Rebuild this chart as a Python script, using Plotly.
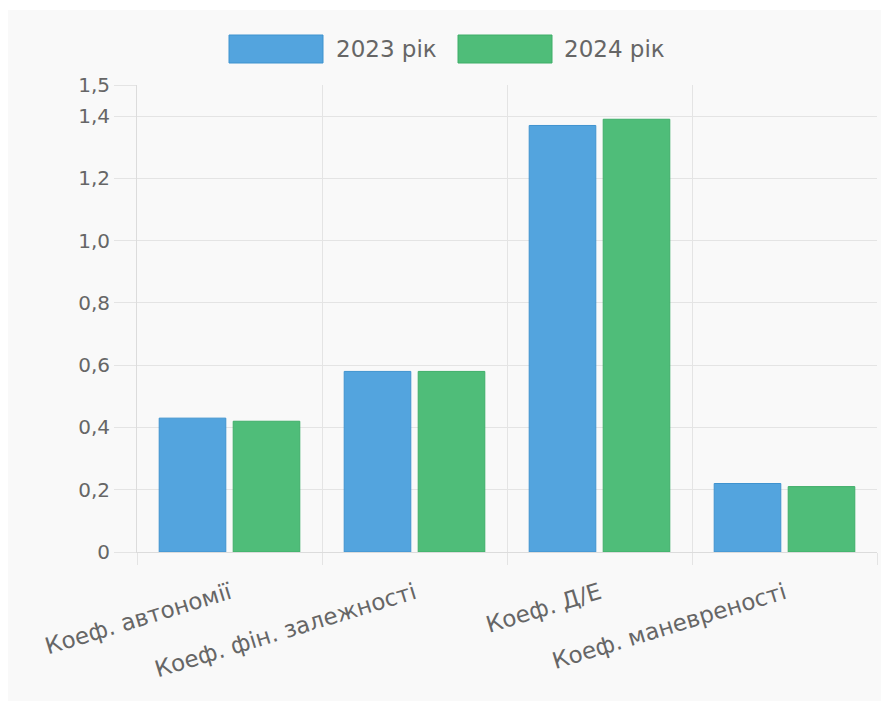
import plotly.graph_objects as go

# Financial stability ratios, two years side by side
categories = ["Коеф. автономії", "Коеф. фін. залежності", "Коеф. Д/Е", "Коеф. маневреності"]
series_names = ["2023 рік", "2024 рік"]
values_2023 = [0.43, 0.58, 1.37, 0.22]
values_2024 = [0.42, 0.58, 1.39, 0.21]
y_tick_values = [0, 0.2, 0.4, 0.6, 0.8, 1.0, 1.2, 1.4, 1.5]
y_tick_labels = ["0", "0,2", "0,4", "0,6", "0,8", "1,0", "1,2", "1,4", "1,5"]

FILL = ["#53a4de", "#4fbd79"]
EDGE = ["#3f93cf", "#3fae69"]
GRID = "#e4e4e4"
TEXT = "#666666"
FONT = "DejaVu Sans"

W, H = 889, 711
ML, MR, MT, MB = 137, 12, 85, 159
PW, PH = W - ML - MR, H - MT - MB


def px_x(x):
    return (x - ML) / PW


def px_y(y):
    return (H - MB - y) / PH


fig = go.Figure()
for name, vals, fill, edge in zip(series_names, [values_2023, values_2024], FILL, EDGE):
    fig.add_trace(go.Bar(
        x=categories, y=vals, name=name,
        marker=dict(color=fill, line=dict(color=edge, width=1)),
        showlegend=False,
    ))

shapes = [
    # light card behind the whole chart
    dict(type="rect", xref="paper", yref="paper", layer="below",
         x0=px_x(8), x1=px_x(881), y0=px_y(701), y1=px_y(10),
         fillcolor="#f9f9f9", line=dict(width=0)),
]
annotations = []

# legend boxes with labels across the top
legend_boxes = [(229, 323, 334), (458, 552, 562)]
for (bx0, bx1, tx), name, fill, edge in zip(legend_boxes, series_names, FILL, EDGE):
    shapes.append(dict(type="rect", xref="paper", yref="paper",
                       x0=px_x(bx0), x1=px_x(bx1), y0=px_y(63), y1=px_y(35),
                       fillcolor=fill, line=dict(color=edge, width=1)))
    annotations.append(dict(xref="paper", yref="paper", x=px_x(tx), y=px_y(49),
                            xanchor="left", yanchor="middle", showarrow=False,
                            text=name, font=dict(family=FONT, size=23, color=TEXT)))

fig.update_layout(
    width=W, height=H,
    margin=dict(l=ML, r=MR, t=MT, b=MB, pad=0),
    paper_bgcolor="white",
    plot_bgcolor="rgba(0,0,0,0)",
    barmode="group", bargap=0.2, bargroupgap=0.1,
    font=dict(family=FONT, size=20, color=TEXT),
    shapes=shapes, annotations=annotations,
    xaxis=dict(
        type="category", tickson="boundaries",
        showgrid=True, gridcolor=GRID, gridwidth=1,
        ticks="outside", ticklen=12, tickcolor=GRID,
        tickangle=-17, tickfont=dict(family=FONT, size=23, color=TEXT),
        ticklabelstandoff=18,
        showline=True, linecolor="#dcdcdc", linewidth=1,
        zeroline=False,
    ),
    yaxis=dict(
        range=[0, 1.5], tickvals=y_tick_values, ticktext=y_tick_labels,
        showgrid=True, gridcolor=GRID, gridwidth=1,
        ticks="outside", ticklen=22, tickcolor=GRID,
        tickfont=dict(family=FONT, size=20, color=TEXT),
        showline=True, linecolor="#dcdcdc", linewidth=1,
        zeroline=False,
    ),
)

fig.write_html("out.html")
